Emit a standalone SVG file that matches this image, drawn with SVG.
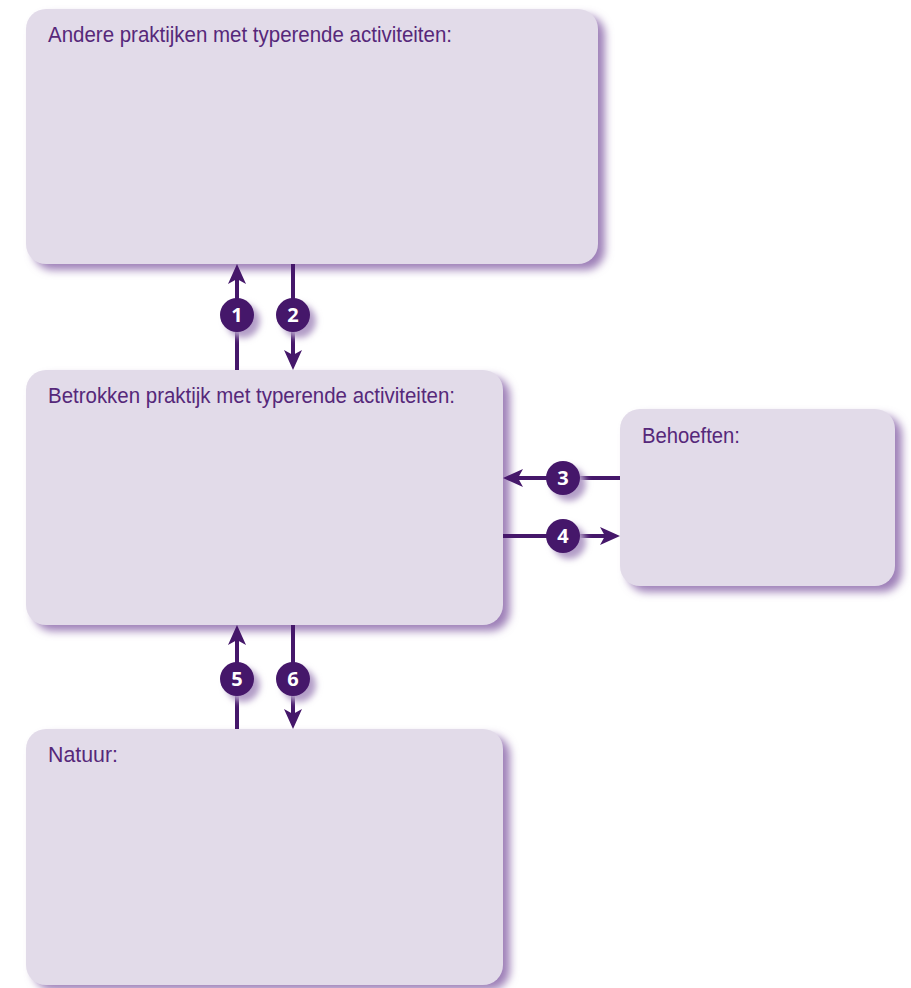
<svg xmlns="http://www.w3.org/2000/svg" width="911" height="988" viewBox="0 0 911 988">
<style>
.box{fill:#e2dbe9}
.sh{fill:#9e80b8;filter:url(#blur)}
.lbl{font-family:"Liberation Sans",Arial,sans-serif;font-size:22px;fill:#56287a}
.ln{stroke:#45176a;stroke-width:4;fill:none}
.ah{fill:#45176a}
.num{fill:#45176a}
.nt{font-family:"Open Sans","Liberation Sans",sans-serif;font-weight:bold;font-size:20px;fill:#ffffff;text-anchor:middle}
.csh{fill:#b29dc7;filter:url(#blur2)}
</style>
<defs>
<filter id="blur" x="-10%" y="-10%" width="120%" height="120%"><feGaussianBlur stdDeviation="4.5"/></filter>
<filter id="blur2" x="-50%" y="-50%" width="200%" height="200%"><feGaussianBlur stdDeviation="3"/></filter>
<path id="head" d="M0,0 L-9,20 L0,15 L9,20 Z"/>
</defs>
<rect width="911" height="988" fill="#ffffff"/>
<g id="node-andere">
<rect class="sh" x="33" y="15" width="572" height="255" rx="20"/>
<rect class="box" x="26" y="9" width="572" height="255" rx="20"/>
<text class="lbl" x="48" y="42" textLength="404" lengthAdjust="spacingAndGlyphs">Andere praktijken met typerende activiteiten:</text>
</g>
<g id="node-betrokken">
<rect class="sh" x="33" y="376" width="477" height="255" rx="20"/>
<rect class="box" x="26" y="370" width="477" height="255" rx="20"/>
<text class="lbl" x="48" y="403" textLength="407" lengthAdjust="spacingAndGlyphs">Betrokken praktijk met typerende activiteiten:</text>
</g>
<g id="node-behoeften">
<rect class="sh" x="627" y="415" width="275" height="177" rx="20"/>
<rect class="box" x="620" y="409" width="275" height="177" rx="20"/>
<text class="lbl" x="642" y="443" textLength="98" lengthAdjust="spacingAndGlyphs">Behoeften:</text>
</g>
<g id="node-natuur">
<rect class="sh" x="33" y="735" width="477" height="255" rx="20"/>
<rect class="box" x="26" y="729" width="477" height="256" rx="20"/>
<text class="lbl" x="48" y="762" textLength="70" lengthAdjust="spacingAndGlyphs">Natuur:</text>
</g>
<g id="connectors">
<line class="ln" x1="237" y1="370" x2="237" y2="278"/>
<use href="#head" class="ah" transform="translate(237,264)"/>
<line class="ln" x1="293" y1="264" x2="293" y2="356"/>
<use href="#head" class="ah" transform="translate(293,370) rotate(180)"/>
<line class="ln" x1="620" y1="478" x2="517" y2="478"/>
<use href="#head" class="ah" transform="translate(503,478) rotate(-90)"/>
<line class="ln" x1="503" y1="536" x2="606" y2="536"/>
<use href="#head" class="ah" transform="translate(620,536) rotate(90)"/>
<line class="ln" x1="237" y1="729" x2="237" y2="639"/>
<use href="#head" class="ah" transform="translate(237,625)"/>
<line class="ln" x1="293" y1="625" x2="293" y2="715"/>
<use href="#head" class="ah" transform="translate(293,729) rotate(180)"/>
<g id="badge-1"><circle class="csh" cx="243" cy="321" r="17"/><circle class="num" cx="237" cy="315" r="17"/><text class="nt" x="237" y="322">1</text></g>
<g id="badge-2"><circle class="csh" cx="299" cy="321" r="17"/><circle class="num" cx="293" cy="315" r="17"/><text class="nt" x="293" y="322">2</text></g>
<g id="badge-3"><circle class="csh" cx="569" cy="484" r="17"/><circle class="num" cx="563" cy="478" r="17"/><text class="nt" x="563" y="485">3</text></g>
<g id="badge-4"><circle class="csh" cx="569" cy="542" r="17"/><circle class="num" cx="563" cy="536" r="17"/><text class="nt" x="563" y="543">4</text></g>
<g id="badge-5"><circle class="csh" cx="243" cy="685" r="17"/><circle class="num" cx="237" cy="679" r="17"/><text class="nt" x="237" y="686">5</text></g>
<g id="badge-6"><circle class="csh" cx="299" cy="685" r="17"/><circle class="num" cx="293" cy="679" r="17"/><text class="nt" x="293" y="686">6</text></g>
</g>
</svg>
